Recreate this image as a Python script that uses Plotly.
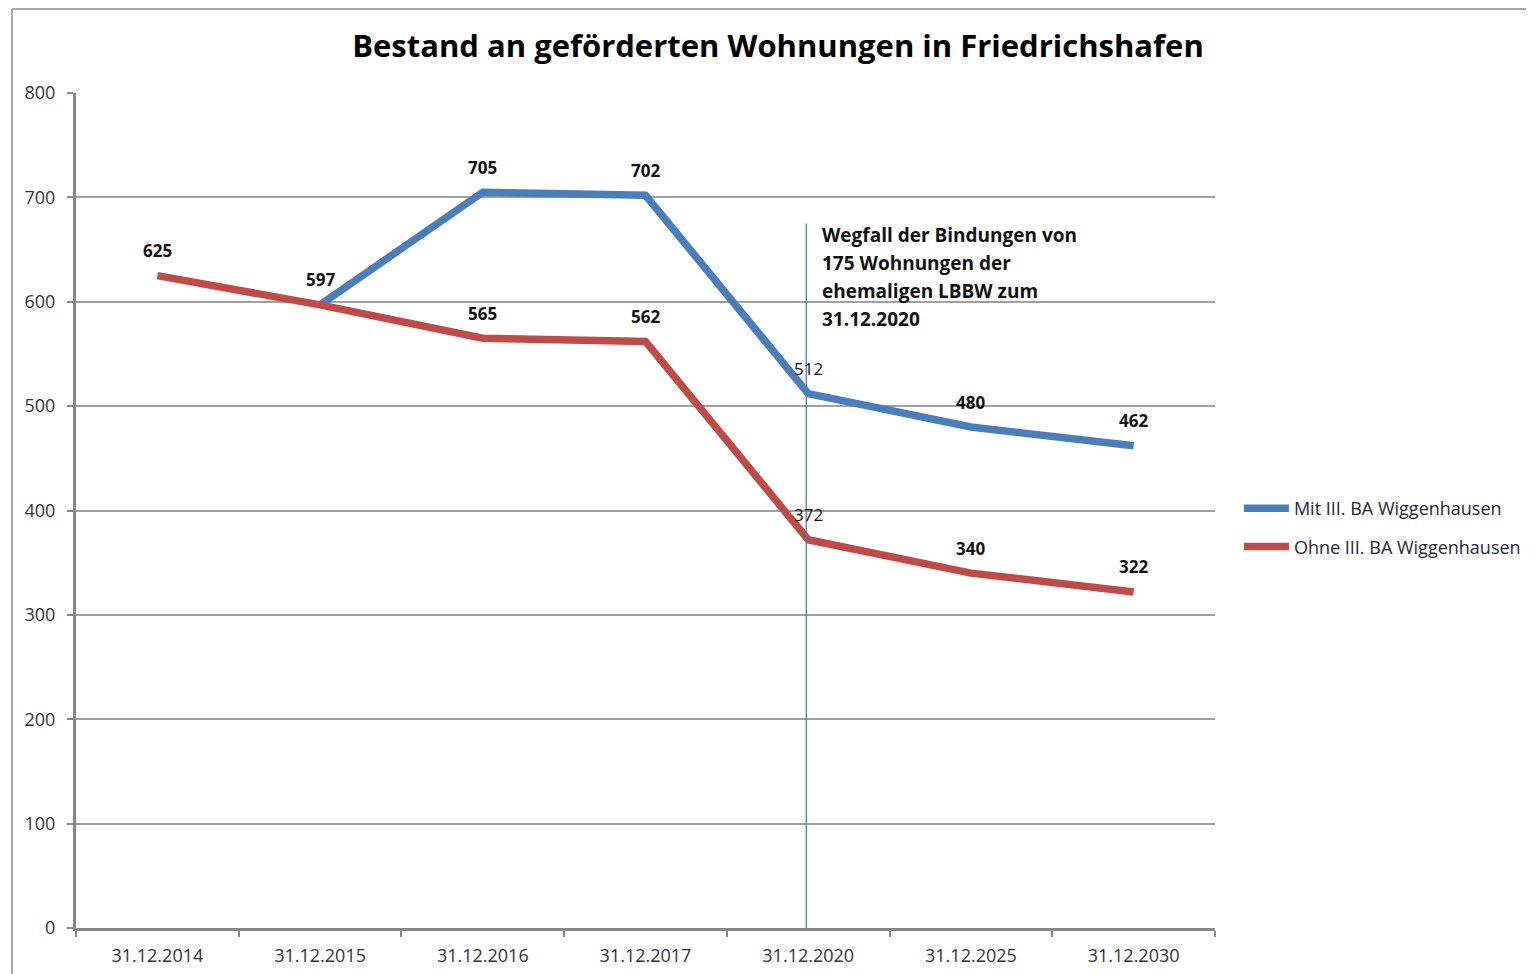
import plotly.graph_objects as go

categories = ["31.12.2014", "31.12.2015", "31.12.2016", "31.12.2017",
              "31.12.2020", "31.12.2025", "31.12.2030"]
mit_values = [None, 597, 705, 702, 512, 480, 462]
ohne_values = [625, 597, 565, 562, 372, 340, 322]
series_names = ["Mit III. BA Wiggenhausen", "Ohne III. BA Wiggenhausen"]
y_ticks = [0, 100, 200, 300, 400, 500, 600, 700, 800]
title_text = "Bestand an geförderten Wohnungen in Friedrichshafen"
note_lines = ["Wegfall der Bindungen von", "175 Wohnungen der",
              "ehemaligen LBBW zum", "31.12.2020"]
note_category = "31.12.2020"
regular_label_categories = ["31.12.2020"]

BLUE = "#4a7ebb"
RED = "#be4b48"
FONT = "Open Sans"

fig = go.Figure()
fig.add_trace(go.Scatter(x=categories, y=mit_values, mode="lines", name=series_names[0],
                         line=dict(color=BLUE, width=7.5), legendgroup="a",
                         connectgaps=False))
fig.add_trace(go.Scatter(x=categories, y=ohne_values, mode="lines", name=series_names[1],
                         line=dict(color=RED, width=7.5), legendgroup="b"))

# data labels
for i, c in enumerate(categories):
    labels = []
    if mit_values[i] is not None:
        labels.append(mit_values[i])
    if ohne_values[i] is not None and ohne_values[i] != mit_values[i]:
        labels.append(ohne_values[i])
    for v in labels:
        bold = c not in regular_label_categories
        fig.add_annotation(x=c, y=v, text=(f"<b>{v}</b>" if bold else str(v)),
                           showarrow=False, yshift=25,
                           font=dict(family=FONT, size=17, color="#111"))

# vertical marker line and note
ni = categories.index(note_category)
fig.add_shape(type="line", xref="x", yref="y", x0=ni - 0.012, x1=ni - 0.012,
              y0=0, y1=675, line=dict(color=BLUE, width=1.3))
for k, line in enumerate(note_lines):
    fig.add_annotation(x=ni + 0.073, y=664, xref="x", yref="y", xanchor="left",
                       text=f"<b>{line}</b>", showarrow=False, yshift=-28 * k,
                       font=dict(family=FONT, size=19, color="#111"))

# outer frame
fig.add_shape(type="line", xref="paper", yref="paper", x0=-0.0562, x1=-0.0562,
              y0=-0.08, y1=1.1006, line=dict(color="#a6a6a6", width=2))
fig.add_shape(type="line", xref="paper", yref="paper", x0=-0.0562, x1=1.3,
              y0=1.1006, y1=1.1006, line=dict(color="#a6a6a6", width=2))

fig.update_layout(
    width=1534, height=974,
    margin=dict(l=68, r=327, t=85, b=54),
    paper_bgcolor="white", plot_bgcolor="white",
    title=dict(text=f"<b>{title_text}</b>", x=(770 / 1534), xanchor="center",
               y=1 - 38 / 974, yanchor="middle",
               font=dict(family=FONT, size=31, color="#000")),
    showlegend=True,
    legend=dict(x=1.021, y=0.5246, xanchor="left", yanchor="top",
                font=dict(family=FONT, size=18, color="#1f2740"),
                tracegroupgap=12, itemwidth=45, bgcolor="rgba(0,0,0,0)"),
    xaxis=dict(type="category", categoryorder="array", categoryarray=categories,
               range=[-0.5, 6.5], showgrid=False, tickson="boundaries",
               ticks="outside", ticklen=6, tickcolor="#888", tickwidth=2,
               ticklabelstandoff=9,
               showline=True, linecolor="#888", linewidth=3,
               tickfont=dict(family=FONT, size=18, color="#333"), fixedrange=True),
    yaxis=dict(range=[0, 800], tickvals=y_ticks, showgrid=True,
               gridcolor="#a0a0a0", gridwidth=1.5, zeroline=False,
               ticks="outside", ticklen=6, tickcolor="#888", tickwidth=2,
               ticklabelstandoff=8,
               showline=True, linecolor="#888", linewidth=3,
               tickfont=dict(family=FONT, size=18, color="#333"), fixedrange=True),
)

fig.write_html("out.html")
